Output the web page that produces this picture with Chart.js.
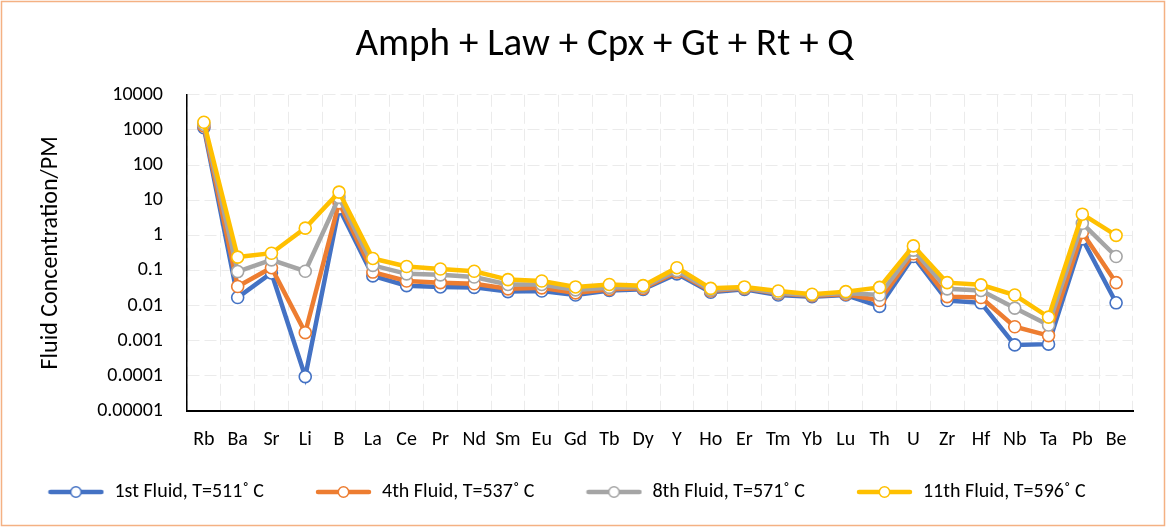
<!DOCTYPE html>
<html lang="en">
<head>
    <meta charset="UTF-8">
    <title>Amph + Law + Cpx + Gt + Rt + Q</title>
    <script src="https://cdn.jsdelivr.net/npm/chart.js"></script>
    <style>
        body { margin: 0; background: #fff; overflow: hidden; }
        canvas { display: block; }
    </style>
</head>
<body>
    <canvas id="fluidChart" width="1167" height="527"></canvas>

    <script type="text/javascript">
        // Elements along the x axis
        var elements = ['Rb', 'Ba', 'Sr', 'Li', 'B', 'La', 'Ce', 'Pr', 'Nd', 'Sm', 'Eu', 'Gd', 'Tb', 'Dy',
                        'Y', 'Ho', 'Er', 'Tm', 'Yb', 'Lu', 'Th', 'U', 'Zr', 'Hf', 'Nb', 'Ta', 'Pb', 'Be'];

        // Fluid concentration / PM
        var fluid1 = [1150, 0.017, 0.085, 0.000095, 6, 0.07, 0.037, 0.034, 0.033, 0.025, 0.026, 0.02, 0.027, 0.029,
                      0.08, 0.024, 0.029, 0.02, 0.018, 0.02, 0.0095, 0.25, 0.014, 0.012, 0.00076, 0.0008, 0.8, 0.012];
        var fluid4 = [1300, 0.035, 0.12, 0.0017, 8.5, 0.09, 0.05, 0.045, 0.042, 0.03, 0.032, 0.023, 0.029, 0.031,
                      0.09, 0.026, 0.031, 0.022, 0.019, 0.021, 0.014, 0.3, 0.018, 0.017, 0.0025, 0.0014, 1.2, 0.045];
        var fluid8 = [1450, 0.093, 0.2, 0.095, 12, 0.14, 0.08, 0.075, 0.065, 0.04, 0.04, 0.028, 0.033, 0.034,
                      0.1, 0.028, 0.032, 0.023, 0.02, 0.023, 0.02, 0.38, 0.03, 0.027, 0.0085, 0.0028, 2.2, 0.25];
        var fluid11 = [1650, 0.24, 0.31, 1.6, 17, 0.22, 0.13, 0.11, 0.095, 0.055, 0.05, 0.034, 0.04, 0.037,
                       0.12, 0.031, 0.034, 0.026, 0.021, 0.025, 0.033, 0.5, 0.045, 0.039, 0.02, 0.0047, 4, 1.0];

        var seriesNames = ['1st Fluid, T=511˚ C', '4th Fluid, T=537˚ C', '8th Fluid, T=571˚ C', '11th Fluid, T=596˚ C'];

        // Log axis ticks (decades only)
        var yTickValues = [0.00001, 0.0001, 0.001, 0.01, 0.1, 1, 10, 100, 1000, 10000];
        var yTickLabels = ['0.00001', '0.0001', '0.001', '0.01', '0.1', '1', '10', '100', '1000', '10000'];

        var colors = ['#4472C4', '#ED7D31', '#A5A5A5', '#FFC000'];

        Chart.defaults.font.family = 'Calibri, Carlito, Lato, sans-serif';
        Chart.defaults.color = '#000';

        // small line + ring icon for the legend
        function legendIcon(color) {
            var c = document.createElement('canvas');
            c.width = 57; c.height = 14;
            var g = c.getContext('2d');
            g.strokeStyle = color;
            g.lineWidth = 4.5;
            g.lineCap = 'round';
            g.beginPath(); g.moveTo(3, 7); g.lineTo(54, 7); g.stroke();
            g.fillStyle = '#fff';
            g.lineWidth = 1.5;
            g.beginPath(); g.arc(28.5, 7, 5.2, 0, Math.PI * 2); g.fill(); g.stroke();
            return c;
        }
        var legendIcons = colors.map(legendIcon);

        function makeSeries(i, values) {
            return {
                label: seriesNames[i],
                data: values,
                borderColor: colors[i],
                backgroundColor: '#fff',
                borderWidth: 4.5,
                pointRadius: 6,
                pointBorderWidth: 1.6,
                pointBackgroundColor: '#fff',
                pointBorderColor: colors[i],
                tension: 0,
                order: 4 - i // yellow drawn on top, like Excel
            };
        }

        // frame around the picture, one-row legend and title shift
        var framePlugin = {
            id: 'frame',
            beforeInit: function(chart) {
                var fit = chart.legend.fit;
                chart.legend.fit = function() {
                    var mw = this.maxWidth;
                    this.maxWidth = 3000; // keep all four items on one row
                    fit.call(this);
                    this.maxWidth = mw;
                    this.width = mw;
                    this.height = 71;
                };
            },
            afterLayout: function(chart) {
                chart.titleBlock.left = 76;
                chart.legend.left = -34;
                chart.legend.right = chart.width;
                chart.legend.top = 431;
                chart.legend.bottom = chart.height;
            },
            afterDraw: function(chart) {
                var ctx = chart.ctx;
                ctx.save();
                ctx.strokeStyle = '#F4B183';
                ctx.lineWidth = 1.5;
                ctx.strokeRect(1.5, 1.5, chart.width - 4, chart.height - 3);
                ctx.restore();
            }
        };

        var ctx = document.getElementById('fluidChart').getContext('2d');
        var fluidChart = new Chart(ctx, {
            type: 'line',
            data: {
                labels: elements,
                datasets: [
                    makeSeries(0, fluid1),
                    makeSeries(1, fluid4),
                    makeSeries(2, fluid8),
                    makeSeries(3, fluid11)
                ]
            },
            options: {
                responsive: false,
                animation: false,
                layout: { padding: { left: 0, right: 34, top: 0, bottom: 0 } },
                plugins: {
                    title: {
                        display: true,
                        text: 'Amph + Law + Cpx + Gt + Rt + Q',
                        color: '#000',
                        font: { size: 39, weight: 'normal' },
                        padding: { top: 22, bottom: 26 }
                    },
                    legend: {
                        position: 'bottom',
                        labels: {
                            usePointStyle: true,
                            pointStyleWidth: 57,
                            padding: 51,
                            color: '#000',
                            font: { size: 20 },
                            sort: function(a, b) { return a.datasetIndex - b.datasetIndex; },
                            generateLabels: function(chart) {
                                var items = Chart.defaults.plugins.legend.labels.generateLabels(chart);
                                items.forEach(function(it) { it.pointStyle = legendIcons[it.datasetIndex]; });
                                return items;
                            }
                        }
                    },
                    tooltip: { enabled: false }
                },
                scales: {
                    x: {
                        offset: true,
                        grid: { offset: true, color: '#ebebeb', lineWidth: 1, drawTicks: false },
                        border: { display: true, color: '#000', width: 2, dash: [12, 5] },
                        ticks: { padding: 17, font: { size: 20 }, maxRotation: 0, autoSkip: false },
                        afterFit: function(scale) { scale.height = 45; }
                    },
                    y: {
                        type: 'logarithmic',
                        min: 0.00001,
                        max: 10000,
                        title: {
                            display: true,
                            text: 'Fluid Concentration/PM',
                            font: { size: 24 },
                            padding: { top: 37, bottom: 0 }
                        },
                        grid: { color: '#ebebeb', lineWidth: 1, drawTicks: false },
                        border: { display: true, color: '#000', width: 1.5, dash: [12, 5] },
                        ticks: {
                            padding: 24,
                            font: { size: 20 },
                            callback: function(value, index) { return yTickLabels[index]; }
                        },
                        afterBuildTicks: function(scale) {
                            scale.ticks = yTickValues.map(function(v) { return { value: v }; });
                        },
                        afterFit: function(scale) { scale.width = 187; }
                    }
                }
            },
            plugins: [framePlugin]
        });
    </script>
</body>
</html>
